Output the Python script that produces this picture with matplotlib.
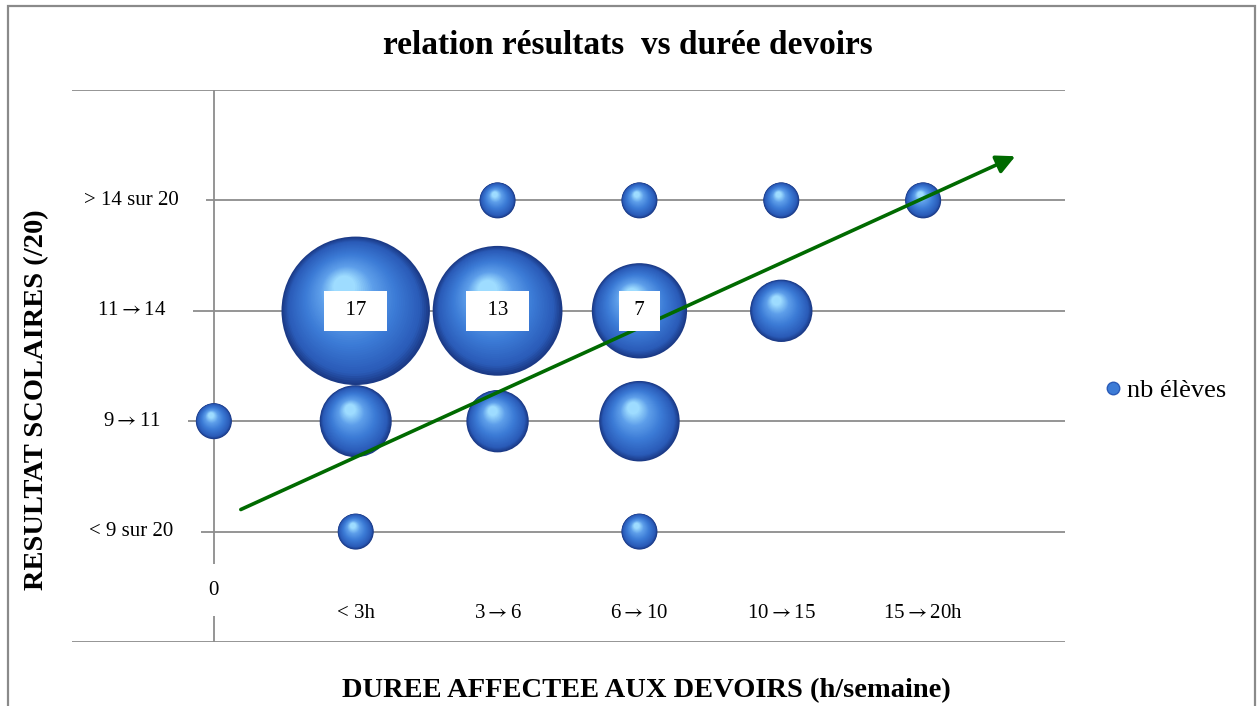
import numpy as np
import matplotlib
matplotlib.use("Agg")
import matplotlib.pyplot as plt
from matplotlib.colors import LinearSegmentedColormap
from matplotlib.lines import Line2D
from matplotlib.patches import Rectangle

# ---------------- data ----------------
duree_labels = ["0", "< 3h", "3 \u2192 6", "6 \u2192 10", "10 \u2192 15", "15 \u2192 20h"]
resultat_labels = ["< 9 sur 20", "9 \u2192 11", "11 \u2192 14", "> 14 sur 20"]
bubble_x = [0, 1, 1, 1, 2, 2, 2, 3, 3, 3, 3, 4, 4, 5]
bubble_y = [2, 1, 2, 3, 2, 3, 4, 1, 2, 3, 4, 3, 4, 4]
nb_eleves = [1, 1, 4, 17, 3, 13, 1, 1, 5, 7, 1, 3, 1, 1]
labelled_values = [17, 13, 7]
trend_start = (0.19, 1.2)
trend_end = (5.65, 4.40)

title = "relation résultats  vs durée devoirs"
xlabel = "DUREE AFFECTEE AUX DEVOIRS (h/semaine)"
ylabel = "RESULTAT SCOLAIRES (/20)"
legend_label = "nb élèves"

plt.rcParams["mathtext.fontset"] = "stix"


def fmt(s):
    return s.replace("\u2192", r"$\!\!\rightarrow\!\!$")


# ---------------- figure ----------------
W, H, DPI = 1258, 706, 100
fig = plt.figure(figsize=(W / DPI, H / DPI), dpi=DPI)
fig.patch.set_facecolor("white")
serif = ["Liberation Serif", "DejaVu Serif"]

L, R, T, B = 72, 1065, 90, 642
ax = fig.add_axes([L / W, 1 - B / H, (R - L) / W, (B - T) / H])
ax.set_xlim(-1, 6)
ax.set_ylim(0, 5)
for s in ax.spines.values():
    s.set_visible(False)
ax.set_xticks([])
ax.set_yticks([])

grid_c = "#8c8c8c"
for yv in range(0, 6):
    ax.axhline(yv, color=grid_c, lw=1.3, zorder=1)
ax.axvline(0, color=grid_c, lw=1.3, zorder=1)

# pixel -> data conversion
px_x = 7 / (R - L)
px_y = 5 / (B - T)

# bubble scale: area proportional to value (radius 18px for value 1)
r1_px = 18.0
pt_per_px = 72 / DPI

cmap = LinearSegmentedColormap.from_list(
    "sphere",
    [(0.0, "#1b3a86"), (0.12, "#2a5bb8"), (0.45, "#3c7bd6"),
     (0.75, "#5e9fea"), (1.0, "#9edcff")])

xs = np.array(bubble_x, float)
ys = np.array(bubble_y, float)
vals = np.array(nb_eleves, float)
radii_px = r1_px * np.sqrt(vals)

N = 40
for k in range(N):
    t = k / (N - 1)
    f = 1 - 0.85 * t
    offx = -0.18 * (1 - f) * radii_px * px_x
    offy = 0.38 * (1 - f) * radii_px * px_y
    diam_pt = 2 * radii_px * f * pt_per_px
    ax.scatter(xs + offx, ys + offy, s=diam_pt ** 2, color=cmap(t),
               edgecolors="none", zorder=3 + k * 0.001)

# data labels on the biggest bubbles
for xv, yv, v in zip(bubble_x, bubble_y, nb_eleves):
    if v in labelled_values:
        sp = "  " if len(str(v)) > 1 else " "
        ax.text(xv, yv, f"{sp}{v}{sp}", ha="center", va="center",
                fontsize=15, family=serif, zorder=10,
                bbox=dict(boxstyle="square,pad=0.5", fc="white", ec="none"))

# trend arrow
ax.annotate("", xy=trend_end, xytext=trend_start,
            arrowprops=dict(arrowstyle="-|>", color="#006a00", lw=2.6,
                            mutation_scale=28, shrinkA=0, shrinkB=0),
            zorder=8)

# category labels (y) with white label boxes hiding the gridline start
for i, lab in enumerate(resultat_labels):
    ax.add_patch(Rectangle((-1, i + 1 - 0.12), 0.45, 0.24, fc="white",
                           ec="none", zorder=4))
    ax.text(-0.58, i + 1, fmt(lab), ha="center", va="center", fontsize=15,
            family=serif, zorder=5, clip_on=False,
            bbox=dict(boxstyle="square,pad=1.3", fc="white", ec="none"))

# category labels (x)
for i, lab in enumerate(duree_labels):
    yv = 0.47 if i == 0 else 0.26
    ax.text(i, yv, fmt(lab), ha="center", va="center", fontsize=15,
            family=serif, zorder=5,
            bbox=dict(boxstyle="square,pad=0.8", fc="white", ec="none"))

# title and axis titles
fig.text(628 / W, 1 - 46 / H, title, ha="center", va="center",
         fontsize=24, fontweight="bold", family=serif)
fig.text(646 / W, 1 - 691 / H, xlabel, ha="center", va="center",
         fontsize=20.5, fontweight="bold", family=serif)
fig.text(37 / W, 1 - 400 / H, ylabel, ha="center", va="center",
         rotation=90, fontsize=20.5, fontweight="bold", family=serif)

# legend
handle = Line2D([], [], marker="o", ls="none", markersize=9,
                markerfacecolor="#3c7bd6", markeredgecolor="#2a5bb8")
fig.legend([handle], [legend_label], loc="center left",
           bbox_to_anchor=(1102 / W, 1 - 390 / H), frameon=False,
           prop={"family": serif, "size": 19}, handletextpad=0.15,
           handlelength=0.8, borderaxespad=0, borderpad=0)

# chart border
fig.add_artist(Rectangle((8 / W, -0.02), (1255 - 8) / W, 1.02 - 6 / H,
                         transform=fig.transFigure, fill=False,
                         ec="#8a8a8a", lw=1.6, zorder=20))

fig.savefig("out.png", dpi=DPI)
